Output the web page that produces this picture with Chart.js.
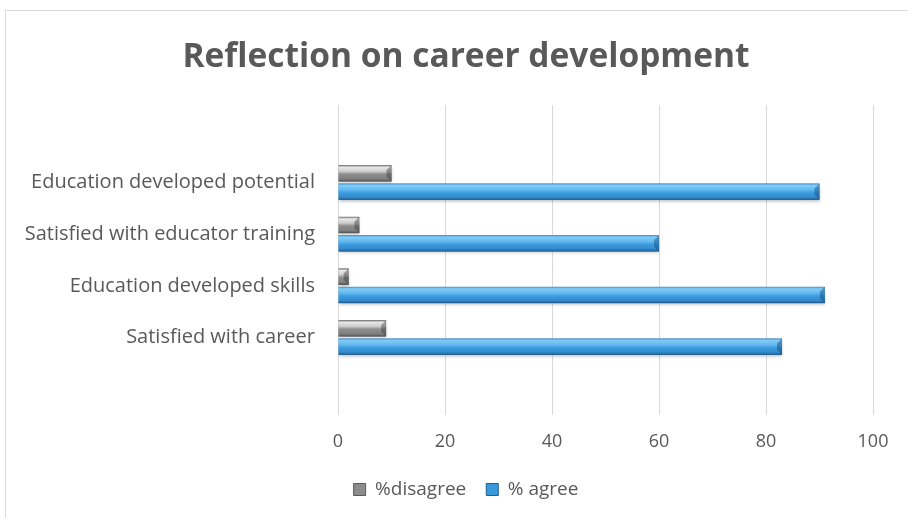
<!DOCTYPE html>
<html>
<head>
<meta charset="utf-8">
<script src="https://cdn.jsdelivr.net/npm/chart.js@4"></script>
<style>
  html, body { margin: 0; padding: 0; background: #fff; overflow: hidden; }
  #marco { position: absolute; left: 5px; top: 10px; width: 960px; height: 600px;
           border-left: 1px solid #d9d9d9; border-top: 1px solid #d9d9d9; }
  #grafico { position: absolute; left: 5px; top: 10px; }
</style>
</head>
<body>
<div id="marco"></div>
<canvas id="grafico" width="922" height="508"></canvas>
<script>
// dados (de cima para baixo)
const categorias = ['Education developed potential', 'Satisfied with educator training', 'Education developed skills', 'Satisfied with career'];
const discorda = [10, 4, 2, 9];
const concorda = [90, 60, 91, 83];
const ticksX = [0, 20, 40, 60, 80, 100];

const cinzaTexto = '#595959';

// degradê "chanfrado" imitando o efeito 3D do Excel
const paletas = {
  0: ['#6a6a6a', '#e8e8e8', '#cdcdcd', '#8e8e8e', '#7e7e7e', '#4e4e4e'],
  1: ['#3f8fcf', '#80ccf7', '#62b9ef', '#3d9ee0', '#3189cb', '#1d5789']
};
const paradas = [0, 0.12, 0.38, 0.55, 0.85, 1];

const bisel = {
  id: 'bisel',
  afterDatasetsDraw(chart) {
    const c = chart.ctx;
    chart.data.datasets.forEach((ds, i) => {
      const meta = chart.getDatasetMeta(i);
      if (meta.hidden) return;
      meta.data.forEach(bar => {
        const p = bar.getProps(['x', 'y', 'base', 'height'], true);
        if (p.x == null || isNaN(p.x)) return;
        const esq = Math.min(p.base, p.x), dir = Math.max(p.base, p.x);
        const topo = p.y - p.height / 2, h = p.height;
        const g = c.createLinearGradient(0, topo, 0, topo + h);
        paletas[i].forEach((cor, k) => g.addColorStop(paradas[k], cor));
        c.save();
        c.shadowColor = 'rgba(0,0,0,0.25)';
        c.shadowBlur = 3;
        c.shadowOffsetY = 2;
        c.fillStyle = g;
        c.fillRect(esq, topo, dir - esq, h);
        c.restore();
        // ponta direita escurecida
        const b = Math.min(5, (dir - esq) / 2);
        c.save();
        c.fillStyle = i === 0 ? 'rgba(60,60,60,0.45)' : 'rgba(20,70,120,0.45)';
        c.beginPath();
        c.moveTo(dir - b, topo + b);
        c.lineTo(dir, topo);
        c.lineTo(dir, topo + h);
        c.lineTo(dir - b, topo + h - b);
        c.closePath();
        c.fill();
        c.restore();
      });
    });
  }
};

const ctx = document.getElementById('grafico').getContext('2d');

new Chart(ctx, {
  type: 'bar',
  data: {
    datasets: [{
      label: '%disagree',
      data: discorda.map((v, i) => ({ x: v, y: i })),
      backgroundColor: '#8c8c8c',
      borderColor: '#5a5a5a',
      borderWidth: 1
    }, {
      label: '% agree',
      data: concorda.map((v, i) => ({ x: v, y: i })),
      backgroundColor: '#3a9ad9',
      borderColor: '#1f5f95',
      borderWidth: 1
    }]
  },
  options: {
    responsive: false,
    animation: false,
    indexAxis: 'y',
    categoryPercentage: 0.71,
    barPercentage: 0.89,
    layout: { padding: { top: 0, left: 0, right: 0, bottom: 9 } },
    plugins: {
      title: {
        display: true,
        text: 'Reflection on career development',
        color: cinzaTexto,
        font: { family: 'Open Sans', size: 33.5, weight: 'bold' },
        padding: { top: 27, bottom: 27.8 }
      },
      legend: {
        position: 'bottom',
        labels: {
          color: cinzaTexto,
          font: { family: 'Open Sans', size: 19 },
          boxWidth: 12,
          boxHeight: 12,
          padding: 20
        }
      },
      tooltip: { enabled: false }
    },
    scales: {
      x: {
        min: 0,
        max: 100,
        afterBuildTicks: s => { s.ticks = ticksX.map(v => ({ value: v })); },
        afterFit: s => { s.height = 45; },
        grid: { color: '#d9d9d9', drawTicks: false },
        border: { display: false },
        ticks: {
          color: cinzaTexto,
          font: { family: 'Open Sans', size: 18 },
          padding: 16
        }
      },
      y: {
        type: 'linear',
        reverse: true,
        offset: false,
        // meia categoria vazia extra acima e abaixo, como no original
        min: -1.5,
        max: categorias.length + 0.5,
        afterBuildTicks: s => { s.ticks = categorias.map((_, i) => ({ value: i })); },
        afterFit: s => { s.width = 333; },
        grid: { display: false, drawTicks: false },
        border: { display: false },
        ticks: {
          color: cinzaTexto,
          font: { family: 'Open Sans', size: 20 },
          padding: 23,
          autoSkip: false,
          callback: v => categorias[v] ?? ''
        }
      },
      // eixo vazio à direita só para reservar a margem
      margem: {
        type: 'linear',
        position: 'right',
        afterFit: s => { s.width = 54; },
        grid: { display: false, drawTicks: false },
        border: { display: false },
        ticks: { display: false }
      }
    }
  },
  plugins: [bisel]
});
</script>
</body>
</html>
